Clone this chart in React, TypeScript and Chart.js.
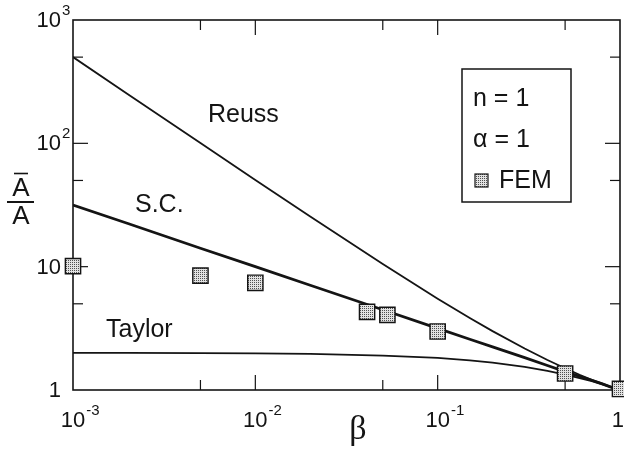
import React, { useEffect, useRef } from "react";
import { Chart, registerables } from "chart.js";

Chart.register(...registerables);

// Curves
const beta = [0.001, 0.002, 0.005, 0.01, 0.02, 0.05, 0.1, 0.15, 0.2, 0.3, 0.4, 0.5, 0.6, 0.7, 0.8, 0.9, 1];
const reuss = [500.5, 250.5, 100.5, 50.5, 25.5, 10.5, 5.5, 3.83, 3.0, 2.17, 1.75, 1.5, 1.33, 1.21, 1.125, 1.056, 1];
const selfConsistent = [31.6, 22.4, 14.1, 10, 7.07, 4.47, 3.16, 2.58, 2.24, 1.83, 1.58, 1.41, 1.29, 1.2, 1.12, 1.05, 1];
const taylor = [2.0, 2.0, 1.99, 1.98, 1.96, 1.9, 1.82, 1.74, 1.67, 1.54, 1.43, 1.33, 1.25, 1.18, 1.11, 1.05, 1];

// FEM points
const femBeta = [0.001, 0.005, 0.01, 0.041, 0.053, 0.1, 0.5, 1];
const femA = [10.1, 8.45, 7.4, 4.3, 4.07, 2.98, 1.36, 1.02];

// Ticks
const xMajor = [0.001, 0.01, 0.1, 1];
const xMinor = [0.005, 0.05, 0.5];
const xTickBase = ["10", "10", "10", "1"];
const xTickSup = ["-3", "-2", "-1", ""];
const yMajor = [1, 10, 100, 1000];
const yMinor = [5, 50, 500];
const yTickBase = ["1", "10", "10", "10"];
const yTickSup = ["", "", "2", "3"];

const SANS = '"Liberation Sans", Arial, Helvetica, sans-serif';
const SERIF = '"Liberation Serif", "Times New Roman", serif';
const INK = "#141414";

function makePattern(): CanvasPattern | string {
  const pc = document.createElement("canvas");
  pc.width = 2;
  pc.height = 2;
  const c = pc.getContext("2d");
  if (!c) return "#c0c0c0";
  c.fillStyle = "#e2e2e2";
  c.fillRect(0, 0, 2, 2);
  c.fillStyle = "#505050";
  c.fillRect(0, 0, 1, 1);
  const p = c.createPattern(pc, "repeat");
  return p || "#c0c0c0";
}

export default function App() {
  const ref = useRef<HTMLCanvasElement | null>(null);

  useEffect(() => {
    const canvas = ref.current;
    if (!canvas) return;
    const pattern = makePattern();

    const framePlugin = {
      id: "frameTicks",
      beforeDatasetsDraw(chart: any) {
        const { ctx, chartArea } = chart;
        const { left, right, top, bottom } = chartArea;
        const xs = chart.scales.x;
        const ys = chart.scales.y;
        ctx.save();
        ctx.strokeStyle = INK;
        ctx.lineWidth = 1.6;
        ctx.strokeRect(left, top, right - left, bottom - top);
        ctx.lineWidth = 1.2;
        const tick = (x1: number, y1: number, x2: number, y2: number) => {
          ctx.beginPath();
          ctx.moveTo(x1, y1);
          ctx.lineTo(x2, y2);
          ctx.stroke();
        };
        xMajor.slice(1, -1).forEach((v) => {
          const px = xs.getPixelForValue(v);
          tick(px, bottom, px, bottom - 15);
          tick(px, top, px, top + 15);
        });
        xMinor.forEach((v) => {
          const px = xs.getPixelForValue(v);
          tick(px, bottom, px, bottom - 10);
          tick(px, top, px, top + 10);
        });
        yMajor.slice(1, -1).forEach((v) => {
          const py = ys.getPixelForValue(v);
          tick(left, py, left + 15, py);
          tick(right, py, right - 15, py);
        });
        yMinor.forEach((v) => {
          const py = ys.getPixelForValue(v);
          tick(left, py, left + 10, py);
          tick(right, py, right - 10, py);
        });
        ctx.restore();
      },
      afterDraw(chart: any) {
        const { ctx } = chart;
        const xs = chart.scales.x;
        const ys = chart.scales.y;
        const W = chart.width;
        ctx.save();
        ctx.fillStyle = INK;
        ctx.textBaseline = "middle";

        // x tick labels
        xMajor.forEach((v, i) => {
          const px = xs.getPixelForValue(v);
          ctx.font = `22px ${SANS}`;
          const wb = ctx.measureText(xTickBase[i]).width;
          ctx.textAlign = "left";
          const start = Math.min(px - wb / 2, W - wb);
          ctx.fillText(xTickBase[i], start, 421);
          if (xTickSup[i]) {
            ctx.font = `15px ${SANS}`;
            ctx.fillText(xTickSup[i], start + wb + 1, 411);
          }
        });
        // y tick labels
        yMajor.forEach((v, i) => {
          const py = ys.getPixelForValue(v);
          ctx.font = `22px ${SANS}`;
          ctx.textAlign = "right";
          ctx.fillText(yTickBase[i], 61, py + 1);
          if (yTickSup[i]) {
            ctx.font = `15px ${SANS}`;
            ctx.textAlign = "left";
            ctx.fillText(yTickSup[i], 62, py - 9);
          }
        });

        // axis titles
        ctx.textAlign = "center";
        ctx.font = `34px ${SERIF}`;
        ctx.fillText("\u03b2", 358, 430);

        ctx.font = `26px ${SANS}`;
        ctx.fillText("A", 21, 189);
        ctx.fillText("A", 21, 217);
        ctx.lineWidth = 1.6;
        ctx.strokeStyle = INK;
        ctx.beginPath();
        ctx.moveTo(14, 173.5);
        ctx.lineTo(28, 173.5);
        ctx.stroke();
        ctx.lineWidth = 2;
        ctx.beginPath();
        ctx.moveTo(7, 202);
        ctx.lineTo(34, 202);
        ctx.stroke();

        // curve labels
        ctx.textAlign = "left";
        ctx.font = `25px ${SANS}`;
        ctx.fillText("Reuss", 208, 115);
        ctx.fillText("S.C.", 135, 205);
        ctx.fillText("Taylor", 106, 330);

        // legend box
        ctx.lineWidth = 1.5;
        ctx.strokeRect(462, 69, 109, 133);
        ctx.font = `25px ${SANS}`;
        ctx.fillText("n = 1", 473, 99);
        ctx.fillText("\u03b1 = 1", 473, 140);
        ctx.fillText("FEM", 499, 181);
        ctx.fillStyle = pattern as any;
        ctx.fillRect(475, 174, 13, 13);
        ctx.lineWidth = 1.2;
        ctx.strokeRect(475, 174, 13, 13);
        ctx.restore();
      },
    };

    const toXY = (xsArr: number[], ysArr: number[]) => xsArr.map((x, i) => ({ x, y: ysArr[i] }));

    const lineDs = (label: string, ys: number[], width: number) => ({
      label,
      data: toXY(beta, ys),
      showLine: true,
      borderColor: INK,
      borderWidth: width,
      pointRadius: 0,
      tension: 0,
      fill: false,
      order: 2,
    });

    const chart = new Chart(canvas, {
      type: "scatter",
      data: {
        datasets: [
          lineDs("Reuss", reuss, 1.8),
          lineDs("S.C.", selfConsistent, 2.8),
          lineDs("Taylor", taylor, 1.8),
          {
            label: "FEM",
            data: toXY(femBeta, femA),
            showLine: false,
            pointStyle: "rect",
            pointRadius: 10.8,
            pointBackgroundColor: pattern as any,
            pointBorderColor: INK,
            pointBorderWidth: 1.4,
            clip: false as any,
            order: 1,
          } as any,
        ],
      },
      options: {
        responsive: false,
        animation: false,
        devicePixelRatio: 1,
        layout: { autoPadding: false, padding: { left: 73, right: 4, top: 20, bottom: 60 } },
        plugins: {
          legend: { display: false },
          tooltip: { enabled: false },
          title: { display: false },
        },
        scales: {
          x: { type: "logarithmic", min: 0.001, max: 1, display: false },
          y: { type: "logarithmic", min: 1, max: 1000, display: false },
        },
      },
      plugins: [framePlugin],
    });

    return () => chart.destroy();
  }, []);

  return (
    <div style={{ position: "absolute", left: 0, top: 0, width: 624, height: 450, background: "#fff" }}>
      <canvas ref={ref} width={624} height={450} />
    </div>
  );
}
